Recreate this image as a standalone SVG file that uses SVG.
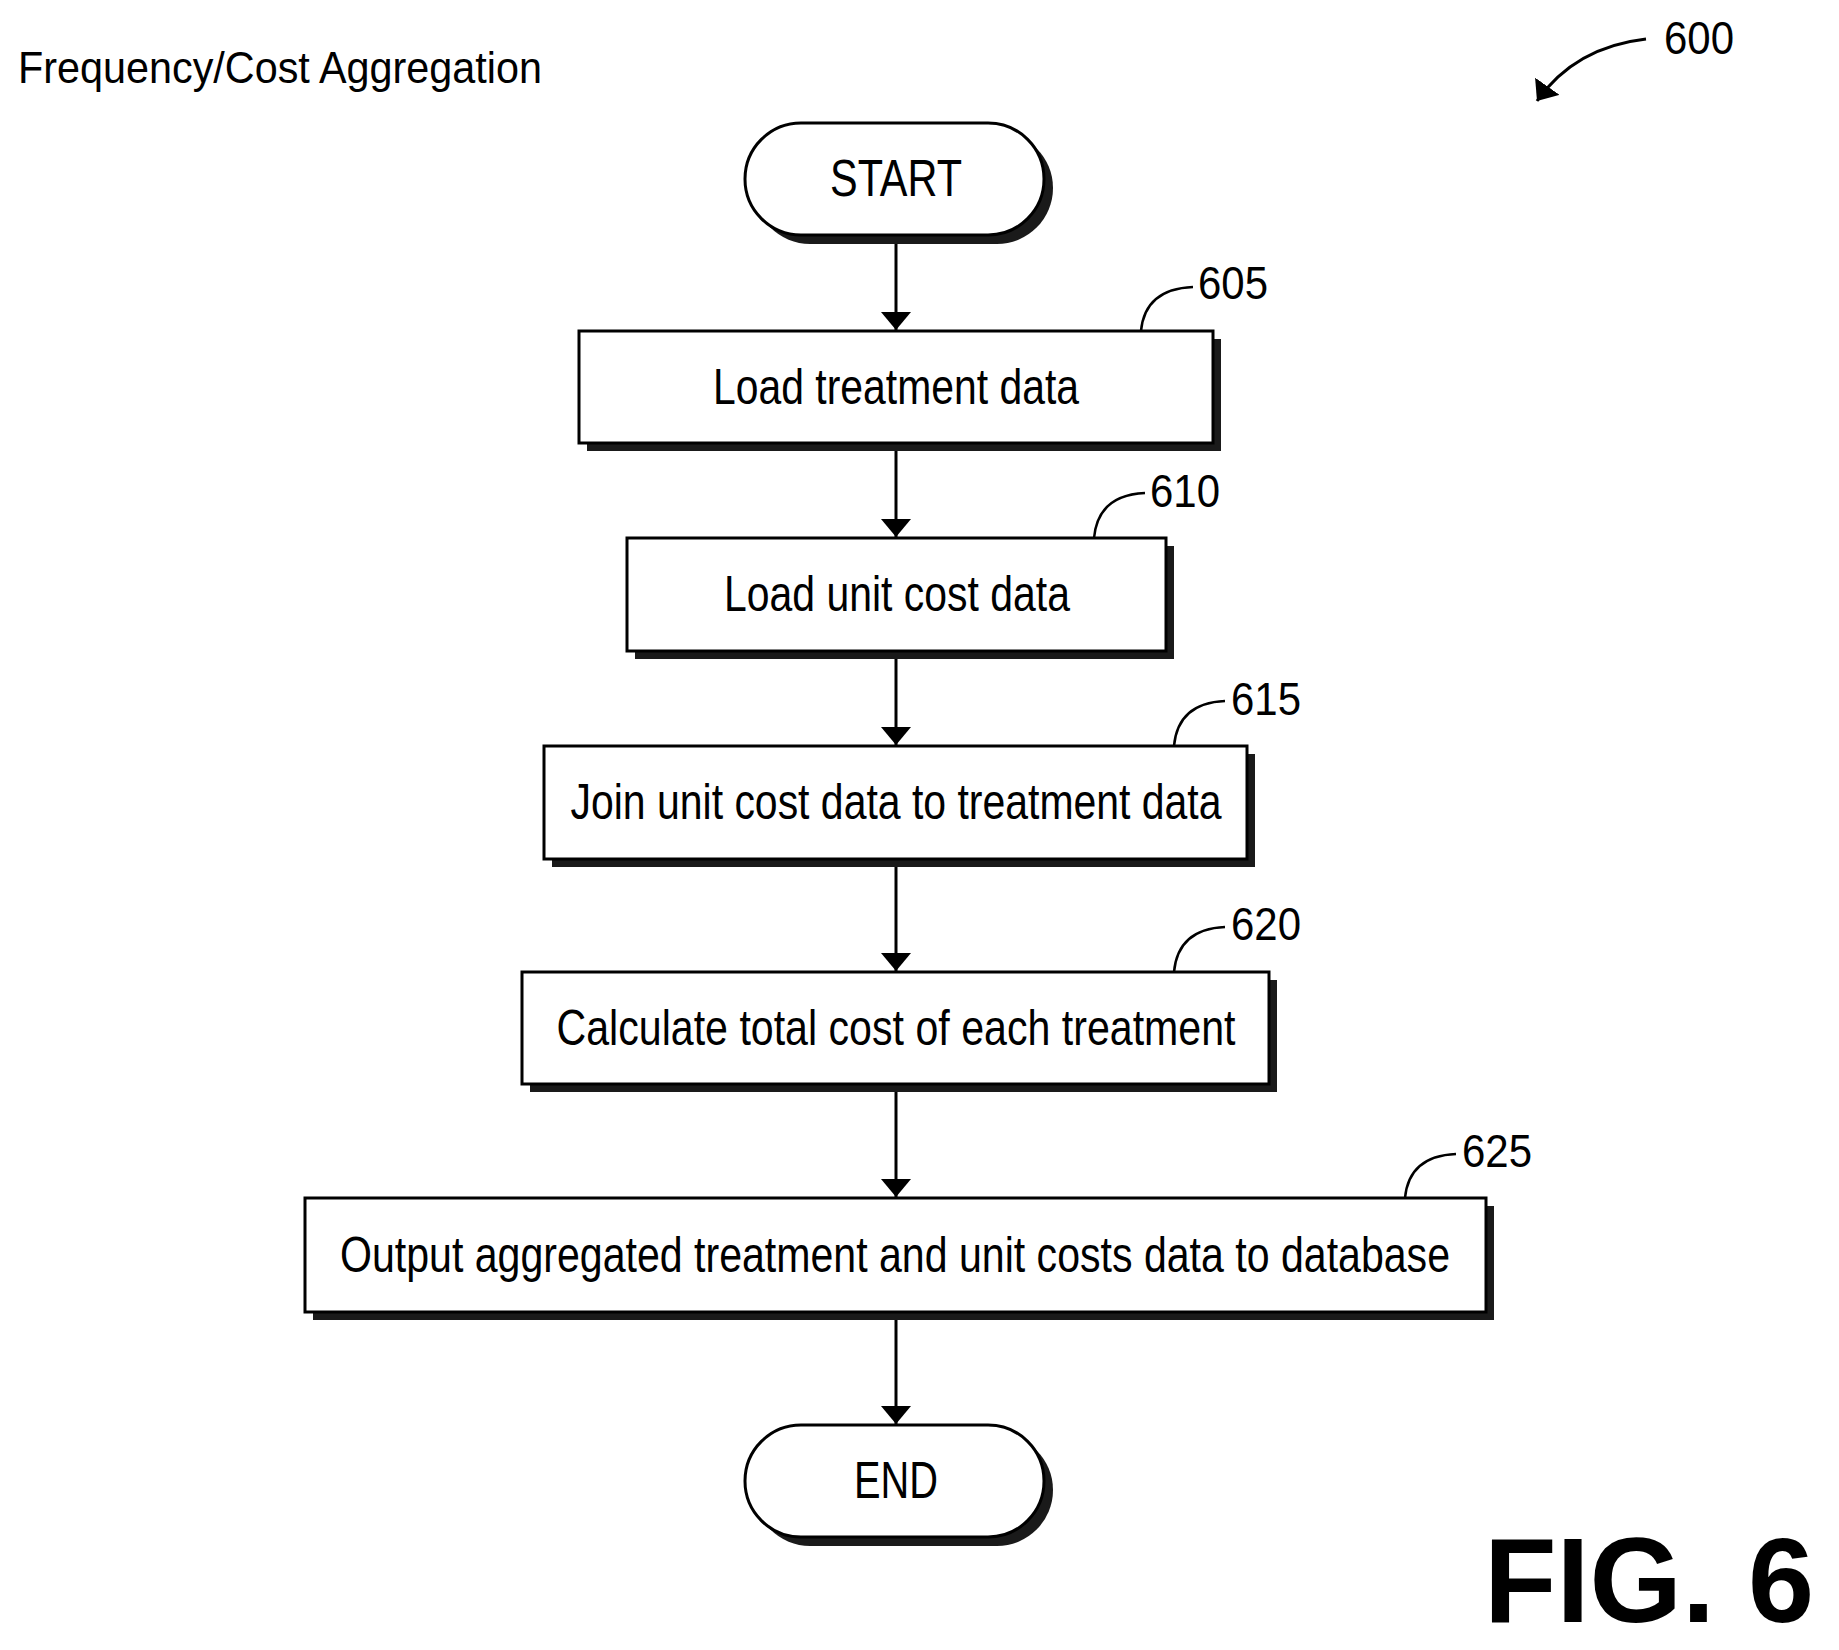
<svg xmlns="http://www.w3.org/2000/svg" width="1839" height="1650" viewBox="0 0 1839 1650">
<defs>
<style>
.t{font-family:"Liberation Sans",Arial,sans-serif;fill:#000}
.box{fill:#fff;stroke:#000;stroke-width:3}
.sh{fill:#1a1a1a}
.c{stroke:#000;stroke-width:3;fill:none}
.ld{stroke:#000;stroke-width:2.5;fill:none}
</style>
<marker id="ah" viewBox="0 0 18 30" refX="18" refY="15" markerWidth="18" markerHeight="30" markerUnits="userSpaceOnUse" orient="auto">
<path d="M0,0 L18,15 L0,30 z" fill="#000"/>
</marker>
</defs>
<rect width="1839" height="1650" fill="#fff"/>
<text class="t" x="18" y="83" font-size="44" textLength="524" lengthAdjust="spacingAndGlyphs">Frequency/Cost Aggregation</text>
<g transform="translate(-5,-3)">
<g id="ref600">
<text class="t" x="1669" y="57" font-size="46" textLength="70" lengthAdjust="spacingAndGlyphs">600</text>
<path class="c" d="M1651,42 Q1580,50 1542,104" marker-end="url(#ah)"/>
</g>
<g id="start">
<rect class="sh" x="759" y="135" width="299" height="112" rx="56"/>
<rect class="box" x="750" y="126" width="299" height="112" rx="56"/>
<text class="t" x="901" y="199" font-size="52" text-anchor="middle" textLength="132" lengthAdjust="spacingAndGlyphs">START</text>
</g>
<g id="n605">
<rect class="sh" x="592" y="342" width="634" height="112"/>
<rect class="box" x="584" y="334" width="634" height="112"/>
<text class="t" x="901" y="407" font-size="50" text-anchor="middle" textLength="366" lengthAdjust="spacingAndGlyphs">Load treatment data</text>
<text class="t" x="1203" y="302" font-size="46" textLength="70" lengthAdjust="spacingAndGlyphs">605</text>
<path class="ld" d="M1146,334 Q1150,292 1198,290"/>
</g>
<g id="n610">
<rect class="sh" x="640" y="549" width="539" height="113"/>
<rect class="box" x="632" y="541" width="539" height="113"/>
<text class="t" x="902" y="614" font-size="50" text-anchor="middle" textLength="346" lengthAdjust="spacingAndGlyphs">Load unit cost data</text>
<text class="t" x="1155" y="510" font-size="46" textLength="70" lengthAdjust="spacingAndGlyphs">610</text>
<path class="ld" d="M1099,541 Q1103,498 1150,496"/>
</g>
<g id="n615">
<rect class="sh" x="557" y="757" width="703" height="113"/>
<rect class="box" x="549" y="749" width="703" height="113"/>
<text class="t" x="901" y="822" font-size="50" text-anchor="middle" textLength="651" lengthAdjust="spacingAndGlyphs">Join unit cost data to treatment data</text>
<text class="t" x="1236" y="718" font-size="46" textLength="70" lengthAdjust="spacingAndGlyphs">615</text>
<path class="ld" d="M1179,749 Q1183,706 1230,704"/>
</g>
<g id="n620">
<rect class="sh" x="535" y="983" width="747" height="112"/>
<rect class="box" x="527" y="975" width="747" height="112"/>
<text class="t" x="901" y="1048" font-size="50" text-anchor="middle" textLength="679" lengthAdjust="spacingAndGlyphs">Calculate total cost of each treatment</text>
<text class="t" x="1236" y="943" font-size="46" textLength="70" lengthAdjust="spacingAndGlyphs">620</text>
<path class="ld" d="M1179,975 Q1183,932 1230,930"/>
</g>
<g id="n625">
<rect class="sh" x="318" y="1209" width="1181" height="114"/>
<rect class="box" x="310" y="1201" width="1181" height="114"/>
<text class="t" x="900" y="1275" font-size="50" text-anchor="middle" textLength="1110" lengthAdjust="spacingAndGlyphs">Output aggregated treatment and unit costs data to database</text>
<text class="t" x="1467" y="1170" font-size="46" textLength="70" lengthAdjust="spacingAndGlyphs">625</text>
<path class="ld" d="M1410,1201 Q1414,1159 1461,1157"/>
</g>
<g id="end">
<rect class="sh" x="759" y="1437" width="299" height="112" rx="56"/>
<rect class="box" x="750" y="1428" width="299" height="112" rx="56"/>
<text class="t" x="901" y="1501" font-size="52" text-anchor="middle" textLength="84" lengthAdjust="spacingAndGlyphs">END</text>
</g>
<g id="connectors">
<path class="c" d="M901,247 V333" marker-end="url(#ah)"/>
<path class="c" d="M901,454 V540" marker-end="url(#ah)"/>
<path class="c" d="M901,662 V748" marker-end="url(#ah)"/>
<path class="c" d="M901,870 V974" marker-end="url(#ah)"/>
<path class="c" d="M901,1095 V1200" marker-end="url(#ah)"/>
<path class="c" d="M901,1323 V1427" marker-end="url(#ah)"/>
</g>
</g>
<text class="t" x="1484" y="1622" font-size="120" font-weight="bold" textLength="330" lengthAdjust="spacingAndGlyphs">FIG. 6</text>
</svg>
